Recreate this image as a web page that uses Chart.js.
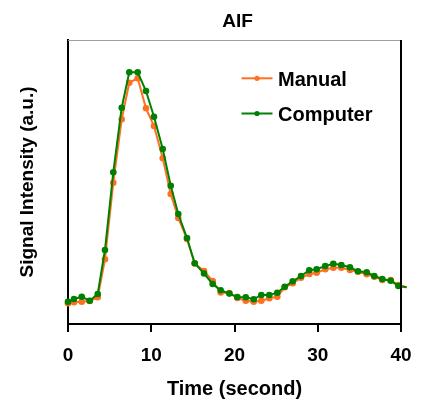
<!DOCTYPE html>
<html lang="en">
<head>
  <meta charset="UTF-8">
  <title>AIF</title>
  <script src="https://cdn.jsdelivr.net/npm/chart.js@4"></script>
  <style>
    * { margin: 0; padding: 0; box-sizing: border-box; }
    body { background: #fff; }
    .wrap { width: 424px; height: 401px; }
  </style>
</head>
<body>
  <div class="wrap"><canvas id="aif" width="424" height="401"></canvas></div>

  <script>
    // time points (s)
    const times = [
      0, 0.72, 1.65, 2.61, 3.57, 4.44, 5.44, 6.45, 7.36, 8.37,
      9.37, 10.33, 11.38, 12.34, 13.25, 14.29, 15.22, 16.34, 17.38, 18.34,
      19.38, 20.34, 21.35, 22.31, 23.22, 24.18, 25.14, 26.03, 26.99, 27.99,
      28.98, 29.87, 30.9, 31.87, 32.83, 33.87, 34.83, 35.88, 36.79, 37.75,
      38.76, 39.68, 40.68
    ]
    // signal intensity, arbitrary units
    const manual = [
      20.7, 21.7, 22.3, 23, 26.7, 64.7, 141.3, 204.7, 241.3, 245.7,
      215.7, 198, 165.7, 130, 106, 85, 60.5, 53, 43, 31.5,
      31, 26, 23.3, 22.3, 23.3, 25.7, 27.3, 36.7, 40.7, 46.3,
      50, 51.3, 54.7, 56.3, 56.3, 54, 52.3, 49.7, 47.3, 44,
      44, 39, 36.7
    ]
    const computer = [
      22.3, 25, 27.3, 23.3, 30, 74, 151.7, 216.3, 251.7, 251.7,
      233, 207.3, 175, 138.3, 110, 86, 60.7, 50.5, 40, 33.7,
      30.4, 27, 26.7, 24.7, 29, 29, 31.3, 37.3, 42.7, 48,
      53.7, 54.7, 58, 60.3, 59, 56.7, 52.7, 51.7, 48, 45,
      43.3, 38, 36.7
    ]
    const seriesNames = ['Manual', 'Computer']
    const xTicks = [0, 10, 20, 30, 40]
    const chartTitle = 'AIF'

    const FONT = "'Liberation Sans', Arial, sans-serif"
    const orange = '#ff7020'
    const green = '#008000'

    const pts = (ys) => times.map((t, i) => ({ x: t, y: ys[i] }))

    const series = (label, ys, color, order) => ({
      label,
      data: pts(ys),
      borderColor: color,
      backgroundColor: color,
      borderWidth: 2,
      tension: 0,
      pointRadius: (c) => (c.parsed && c.parsed.x > 40 ? 0 : 3.3),
      pointBorderWidth: 0,
      pointHoverRadius: 3.3,
      order,
      clip: { left: 6, right: 9, top: 6, bottom: 6 }
    })

    // frame lines, title over the plot box, in-plot legend
    const framePlugin = {
      id: 'frame',
      afterDraw(chart) {
        const { ctx, chartArea: a } = chart
        ctx.save()
        ctx.strokeStyle = '#a0a0a0'
        ctx.lineWidth = 1
        ctx.beginPath()
        ctx.moveTo(a.left, a.top + 0.5)
        ctx.lineTo(a.right, a.top + 0.5)
        ctx.stroke()
        ctx.strokeStyle = '#000'
        ctx.lineWidth = 2
        ctx.beginPath()
        ctx.moveTo(a.right, a.top)
        ctx.lineTo(a.right, a.bottom)
        ctx.stroke()

        ctx.fillStyle = '#000'
        ctx.font = `bold 19px ${FONT}`
        ctx.textAlign = 'center'
        ctx.textBaseline = 'alphabetic'
        ctx.fillText(chartTitle, (a.left + a.right) / 2 + 3, 27.3)

        const rows = [[seriesNames[0], orange, 78.3], [seriesNames[1], green, 113.5]]
        ctx.font = `bold 20px ${FONT}`
        ctx.textAlign = 'left'
        for (const [name, color, y] of rows) {
          ctx.strokeStyle = color
          ctx.fillStyle = color
          ctx.lineWidth = 2
          ctx.beginPath()
          ctx.moveTo(241.5, y)
          ctx.lineTo(272.5, y)
          ctx.stroke()
          ctx.beginPath()
          ctx.arc(257, y, 2.6, 0, Math.PI * 2)
          ctx.fill()
          ctx.fillStyle = '#000'
          ctx.fillText(name, 278, y + 7.2)
        }
        ctx.restore()
      }
    }

    new Chart(document.getElementById('aif'), {
      type: 'line',
      data: {
        datasets: [
          series(seriesNames[0], manual, orange, 1),
          series(seriesNames[1], computer, green, 0)
        ]
      },
      plugins: [framePlugin],
      options: {
        responsive: false,
        animation: false,
        layout: { padding: { left: 0, right: 23, top: 40, bottom: 0 } },
        plugins: {
          legend: { display: false },
          tooltip: { enabled: false },
          title: { display: false }
        },
        scales: {
          x: {
            type: 'linear',
            min: 0,
            max: 40,
            afterBuildTicks: (s) => { s.ticks = xTicks.map(v => ({ value: v })) },
            afterFit: (s) => { s.height = 77 },
            border: { color: '#000', width: 2 },
            grid: { drawOnChartArea: false, drawTicks: true, tickLength: 8, color: '#000', lineWidth: 2 },
            ticks: { color: '#000', padding: 12, maxRotation: 0, font: { family: FONT, size: 19, weight: 'bold' } },
            title: {
              display: true,
              text: 'Time (second)',
              color: '#000',
              font: { family: FONT, size: 20, weight: 'bold' },
              padding: { top: 0, bottom: 0 }
            }
          },
          y: {
            type: 'linear',
            min: 0,
            max: 284,
            afterFit: (s) => { s.width = 68 },
            border: { color: '#000', width: 2 },
            grid: { display: false },
            ticks: { display: false },
            title: {
              display: true,
              text: 'Signal Intensity (a.u.)',
              color: '#000',
              font: { family: FONT, size: 19, weight: 'bold' },
              padding: { top: 16, bottom: 0 }
            }
          }
        }
      }
    })
  </script>
</body>
</html>
